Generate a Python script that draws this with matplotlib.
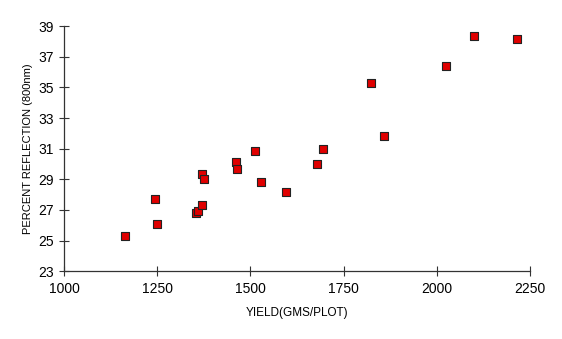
import matplotlib.pyplot as plt

plt.rcParams['font.family'] = ['Liberation Sans', 'DejaVu Sans']

# yield (gms/plot) vs percent reflection at 800 nm
yield_gms = [1164, 1244, 1249, 1355, 1358, 1370, 1370, 1375, 1461, 1464,
             1512, 1528, 1595, 1679, 1695, 1823, 1858, 2024, 2099, 2215]
reflection = [25.3, 27.7, 26.05, 26.8, 26.9, 27.3, 29.35, 29.0, 30.1, 29.7,
              30.85, 28.8, 28.2, 30.0, 30.95, 35.3, 31.85, 36.4, 38.35, 38.15]

xticks = [1000, 1250, 1500, 1750, 2000, 2250]
yticks = [23, 25, 27, 29, 31, 33, 35, 37, 39]

fig = plt.figure(figsize=(5.62, 3.39), dpi=100)
ax = fig.add_axes([0.114, 0.2, 0.829, 0.723])

ax.scatter(yield_gms, reflection, marker='s', s=28, color='#e00000',
           edgecolor='#222222', linewidth=0.8, zorder=3)

ax.set_xlim(1000, 2250)
ax.set_ylim(23, 39)
ax.set_xticks(xticks)
ax.set_yticks(yticks)
ax.tick_params(direction='inout', length=7, width=0.8, color='#333333',
               labelsize=10, pad=4)

for side in ['top', 'right']:
    ax.spines[side].set_visible(False)
for side in ['left', 'bottom']:
    ax.spines[side].set_color('#333333')
    ax.spines[side].set_linewidth(0.9)

ax.set_xlabel('YIELD(GMS/PLOT)', fontsize=8.5, labelpad=8)
ax.set_ylabel('PERCENT REFLECTION (800nm)', fontsize=8, labelpad=3.5)

fig.savefig('out.png', dpi=100)
